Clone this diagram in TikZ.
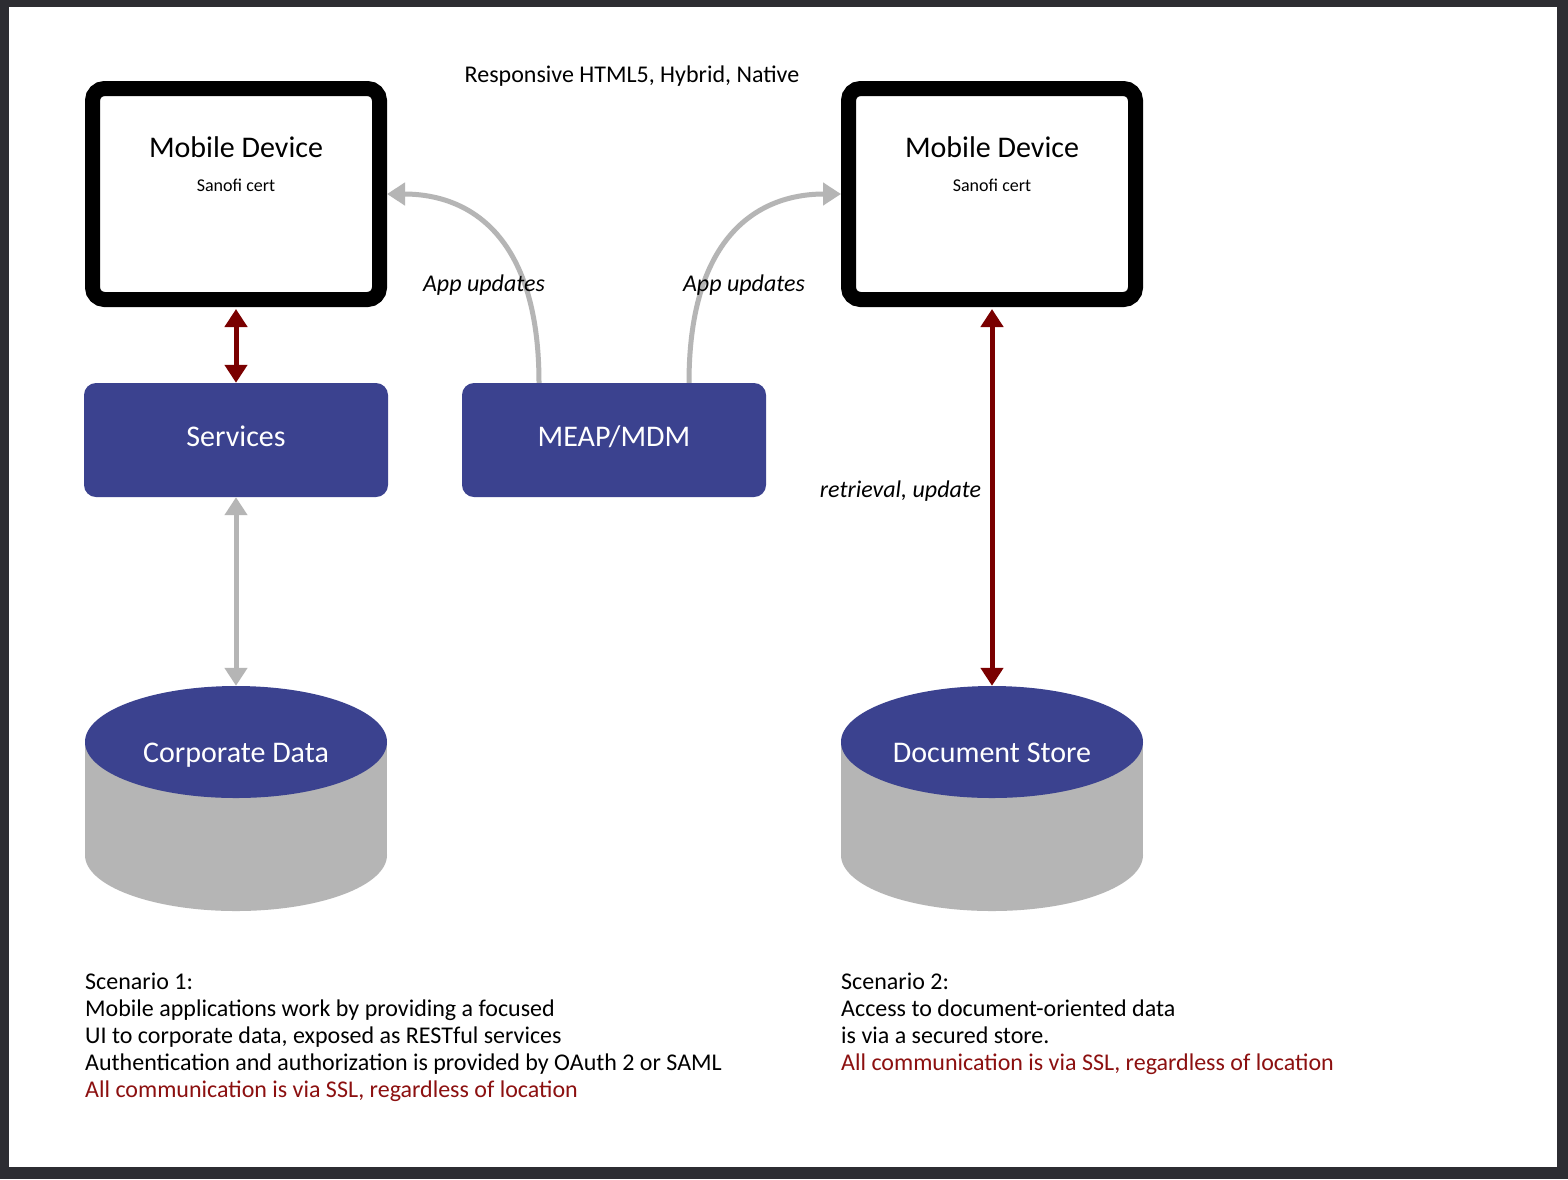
\documentclass[tikz,border=0pt]{standalone}
\usepackage{fontspec}
\setmainfont{Carlito}
\usepackage{xcolor}
\usepackage{tikz}
\usetikzlibrary{arrows.meta}
\usetikzlibrary{shapes.geometric}
\definecolor{sanblue}{RGB}{59,66,143}
\definecolor{sangray}{RGB}{181,181,181}
\definecolor{sanred}{RGB}{122,0,0}
\definecolor{textred}{RGB}{140,16,16}
\definecolor{framegray}{RGB}{45,45,50}
\tikzset{
  mydevice/.style={
    draw=black,
    line width=15pt,
    rounded corners=12pt,
    minimum width=287pt,
    minimum height=211pt,
    inner sep=0pt,
  },
  mybox/.style={
    fill=sanblue,
    text=white,
    rounded corners=12pt,
    minimum width=304pt,
    minimum height=114pt,
    text height=20pt,
    text depth=8pt,
    font=\fontsize{30}{36}\selectfont
  },
  mydisk/.style={
    ellipse,
    fill=sanblue,
    text=white,
    minimum width=302pt,
    minimum height=112pt,
    inner sep=0pt,
    text height=40pt,
    text depth=0pt,
    font=\fontsize{30}{36}\selectfont
  },
  myredarrow/.style={
    draw=sanred,
    line width=5pt,
    {Triangle[length=18pt,width=22pt]}-{Triangle[length=18pt,width=22pt]},
    shorten <=2pt,
  },
  mygrayarrow/.style={
    draw=sangray,
    line width=5pt,
    {Triangle[length=18pt,width=22pt]}-{Triangle[length=18pt,width=22pt]},
  },
  mycurve/.style={
    draw=sangray,
    line width=5pt,
    -{Triangle[length=18pt,width=22pt]},
  },
  mytitle/.style={font=\fontsize{30}{36}\selectfont},
  mysmall/.style={font=\fontsize{18}{22}\selectfont},
  mylabel/.style={font=\fontsize{24}{27}\selectfont\itshape},
  mytext/.style={
    align=left,
    inner sep=0pt,
    font=\fontsize{24}{27}\selectfont
  },
}

\begin{document}
\begin{tikzpicture}[x=1pt, y=-1pt]
    % frame
    \fill[framegray] (0,0) rectangle (1568,1179);
    \fill[white] (9,7) rectangle (1557,1167);
    \useasboundingbox (0,0) rectangle (1568,1179);

    \node[mytext] (resp) at (632,76) {Responsive HTML5, Hybrid, Native};

    % devices
    \node[mydevice] (mob1) at (236,194) {};
    \node[mydevice] (mob2) at (992,194) {};
    \node[mytitle] (mob1t) at ([yshift=-66pt]mob1.north) {Mobile Device};
    \node[mysmall] (mob1s) at ([yshift=-104pt]mob1.north) {Sanofi cert};
    \node[mytitle] (mob2t) at ([yshift=-66pt]mob2.north) {Mobile Device};
    \node[mysmall] (mob2s) at ([yshift=-104pt]mob2.north) {Sanofi cert};

    % boxes
    \node[mybox] (serv) at (236,440) {Services};
    \node[mybox] (meap) at (614,440) {MEAP/MDM};

    % data stores
    \fill[sangray] (85,742) rectangle (387,855);
    \fill[sangray] (236,855) ellipse [x radius=151, y radius=56];
    \node[mydisk] (cdata) at (236,742) {Corporate Data};
    \fill[sangray] (841,742) rectangle (1143,855);
    \fill[sangray] (992,855) ellipse [x radius=151, y radius=56];
    \node[mydisk] (dstore) at (992,742) {Document Store};

    % connectors
    \draw[myredarrow] (mob1) -- (serv);
    \draw[mygrayarrow] (serv) -- (cdata);
    \draw[myredarrow] (mob2) -- (dstore)
        node[mylabel, anchor=east, pos=0.485, xshift=-5pt] (retr) {retrieval, update};
    \draw[mycurve] ([xshift=-75pt]meap.north) .. controls +(0,-150) and +(80,0) .. (mob1.east);
    \draw[mycurve] ([xshift=75pt]meap.north) .. controls +(0,-150) and +(-80,0) .. (mob2.west);
    \node[mylabel] (upd1) at (484,285) {App updates};
    \node[mylabel] (upd2) at (744,285) {App updates};

    % scenarios
    \node[mytext, anchor=north west] (scen1) at (85,973) {Scenario 1:\\
        Mobile applications work by providing a focused\\
        UI to corporate data, exposed as RESTful services\\
        Authentication and authorization is provided by OAuth 2 or SAML\\
        \textcolor{textred}{All communication is via SSL, regardless of location}};
    \node[mytext, anchor=north west] (scen2) at (841,973) {Scenario 2:\\
        Access to document-oriented data\\
        is via a secured store.\\
        \textcolor{textred}{All communication is via SSL, regardless of location}};
\end{tikzpicture}
\end{document}
